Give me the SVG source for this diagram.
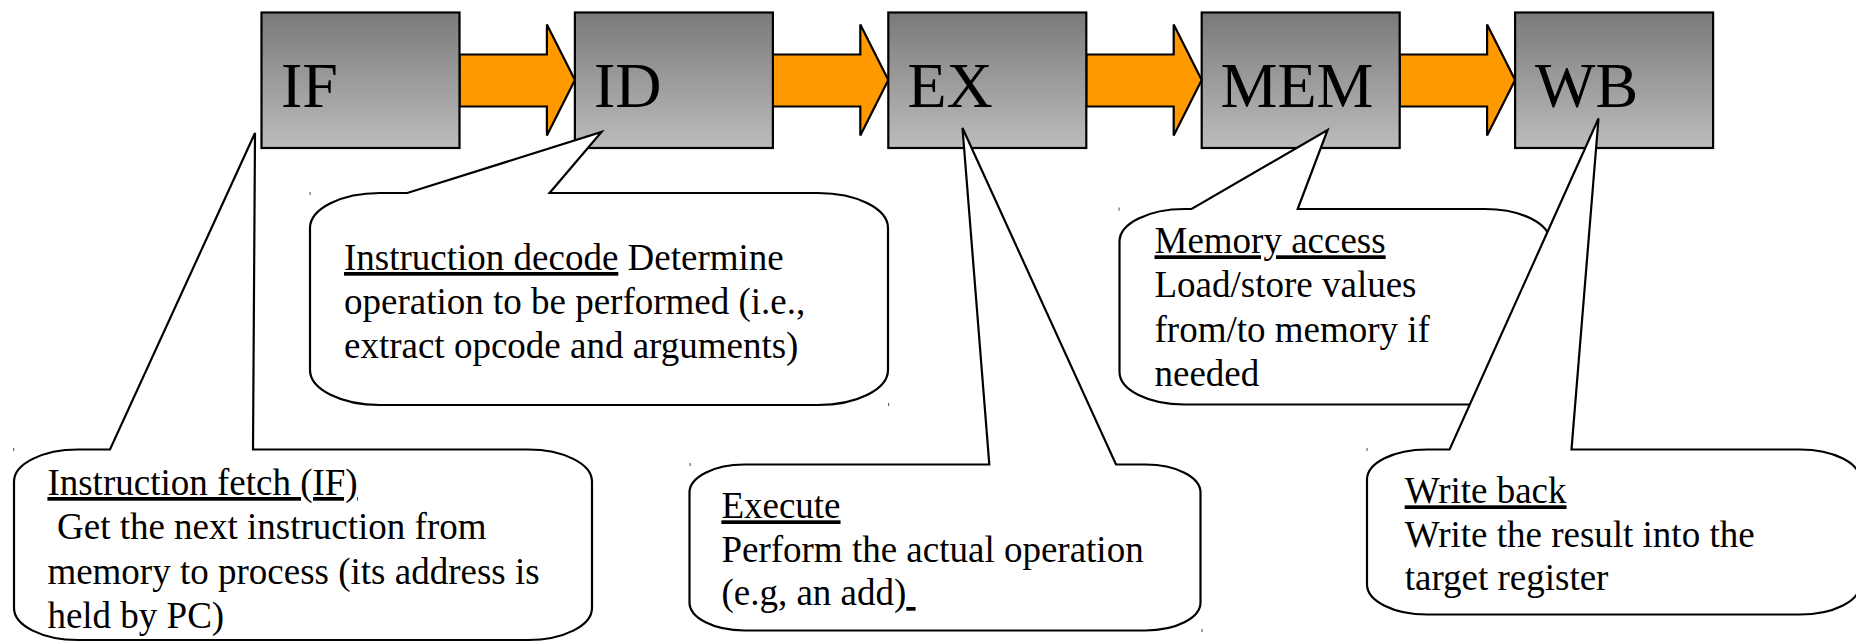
<svg xmlns="http://www.w3.org/2000/svg" width="1856" height="644" viewBox="0 0 1856 644">
  <defs>
    <linearGradient id="boxGrad" x1="0" y1="0" x2="0" y2="1">
      <stop offset="0" stop-color="#7a7a7a"/>
      <stop offset="1" stop-color="#bcbcbc"/>
    </linearGradient>
    <style>
      .box { fill: url(#boxGrad); stroke: #000; stroke-width: 2.2; }
      .arrow { fill: #ff9900; stroke: #000; stroke-width: 2.2; stroke-linejoin: miter; }
      .boxText { font-family: "Liberation Serif", "Times New Roman", serif; font-size: 64px; fill: #000; }
      .callout { fill: #fff; stroke: #000; stroke-width: 2.2; stroke-linejoin: miter; }
      .cText { font-family: "Liberation Serif", "Times New Roman", serif; font-size: 37px; fill: #000; }
      .u { text-decoration: underline; }
      .tick { fill: #666; }
    </style>
  </defs>
  <rect width="1856" height="644" fill="#fff"/>

  <g id="connectors">
    <polygon class="arrow" points="459.5,54.5 546.9,54.5 546.9,24.5 574.9,80 546.9,135.5 546.9,106.5 459.5,106.5"/>
    <polygon class="arrow" points="772.9,54.5 860.3,54.5 860.3,24.5 888.3,80 860.3,135.5 860.3,106.5 772.9,106.5"/>
    <polygon class="arrow" points="1086.3,54.5 1173.7,54.5 1173.7,24.5 1201.7,80 1173.7,135.5 1173.7,106.5 1086.3,106.5"/>
    <polygon class="arrow" points="1399.7,54.5 1487.1,54.5 1487.1,24.5 1515.1,80 1487.1,135.5 1487.1,106.5 1399.7,106.5"/>
  </g>

  <g id="node-IF">
    <rect class="box" x="261.5" y="12.5" width="198" height="135.5"/>
    <text class="boxText" x="281" y="106.5">IF</text>
  </g>
  <g id="node-ID">
    <rect class="box" x="574.9" y="12.5" width="198" height="135.5"/>
    <text class="boxText" x="594" y="106.5">ID</text>
  </g>
  <g id="node-EX">
    <rect class="box" x="888.3" y="12.5" width="198" height="135.5"/>
    <text class="boxText" x="907.5" y="106.5">EX</text>
  </g>
  <g id="node-MEM">
    <rect class="box" x="1201.7" y="12.5" width="198" height="135.5"/>
    <text class="boxText" x="1220.5" y="106.5">MEM</text>
  </g>
  <g id="node-WB">
    <rect class="box" x="1515.1" y="12.5" width="198" height="135.5"/>
    <text class="boxText" x="1535" y="106.5">WB</text>
  </g>

  <g id="callout-ID">
    <path class="callout" d="M380,193 H407.3 L601.5,132 L549.6,193 H818 A70,35 0 0 1 888,228 V370 A70,35 0 0 1 818,405 H380 A70,35 0 0 1 310,370 V228 A70,35 0 0 1 380,193 Z"/>
    <rect class="tick" x="309.5" y="192" width="1.2" height="3"/>
    <rect class="tick" x="888" y="403" width="1.2" height="3"/>
    <text class="cText" x="344" y="270"><tspan class="u">Instruction decode</tspan> Determine</text>
    <text class="cText" x="344" y="314">operation to be performed (i.e.,</text>
    <text class="cText" x="344" y="357.5">extract opcode and arguments)</text>
  </g>

  <g id="callout-IF">
    <path class="callout" d="M78,449.5 H110 L255,133 L253,449.5 H528 A64,32 0 0 1 592,481.5 V608 A64,32 0 0 1 528,640 H78 A64,32 0 0 1 14,608 V481.5 A64,32 0 0 1 78,449.5 Z"/>
    <rect class="tick" x="13" y="448" width="1.2" height="3"/>
    <text class="cText" x="47.4" y="495"><tspan class="u">Instruction fetch (IF)</tspan></text>
    <text class="cText" x="57" y="539.3">Get the next instruction from</text>
    <text class="cText" x="47.4" y="584">memory to process (its address is</text>
    <text class="cText" x="47.4" y="628.3">held by PC)</text>
  </g>

  <g id="callout-EX">
    <path class="callout" d="M744.5,464.5 H989.3 L962.5,128 L1116,464.5 H1145.5 A55,28 0 0 1 1200.5,492.5 V602.5 A55,28 0 0 1 1145.5,630.5 H744.5 A55,28 0 0 1 689.5,602.5 V492.5 A55,28 0 0 1 744.5,464.5 Z"/>
    <rect class="tick" x="689.5" y="463" width="1.2" height="3"/>
    <rect class="tick" x="1201.5" y="629" width="1.2" height="3"/>
    <text class="cText" x="721.4" y="518.3"><tspan class="u">Execute</tspan></text>
    <text class="cText" x="721.4" y="561.7">Perform the actual operation</text>
    <text class="cText" x="721.4" y="605">(e.g, an add)<tspan class="u">&#160;</tspan></text>
  </g>

  <g id="callout-MEM">
    <path class="callout" d="M1184.5,209 H1191.6 L1327.6,130 L1297.7,209 H1485 A65,32.5 0 0 1 1550,241.5 V372 A65,32.5 0 0 1 1485,404.5 H1184.5 A65,32.5 0 0 1 1119.5,372 V241.5 A65,32.5 0 0 1 1184.5,209 Z"/>
    <rect class="tick" x="1118.5" y="207.5" width="1.2" height="3"/>
    <text class="cText" x="1154.5" y="253.3"><tspan class="u">Memory access</tspan></text>
    <text class="cText" x="1154.5" y="297.3">Load/store values</text>
    <text class="cText" x="1154.5" y="341.7">from/to memory if</text>
    <text class="cText" x="1154.5" y="386.2">needed</text>
  </g>

  <g id="callout-WB">
    <path class="callout" d="M1427,449.5 H1449.6 L1598.5,118.5 L1571.5,449.5 H1800 A60,30 0 0 1 1860,479.5 V584.5 A60,30 0 0 1 1800,614.5 H1427 A60,30 0 0 1 1367,584.5 V479.5 A60,30 0 0 1 1427,449.5 Z"/>
    <rect class="tick" x="1366.5" y="448" width="1.2" height="3"/>
    <text class="cText" x="1404.7" y="503.3"><tspan class="u">Write back</tspan></text>
    <text class="cText" x="1404.7" y="546.5">Write the result into the</text>
    <text class="cText" x="1404.7" y="590">target register</text>
  </g>
</svg>
